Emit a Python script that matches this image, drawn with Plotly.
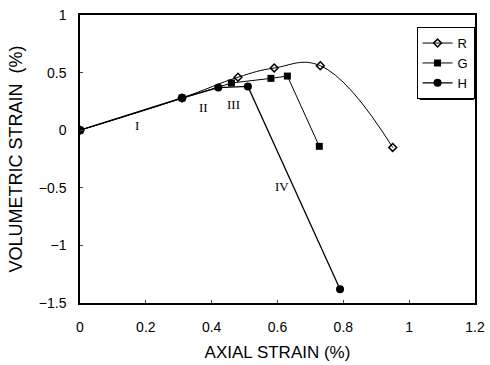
import plotly.graph_objects as go

# Data
r_x = [0.0, 0.31, 0.48, 0.59, 0.73, 0.95]
r_y = [0.0, 0.28, 0.46, 0.54, 0.56, -0.15]
g_x = [0.0, 0.31, 0.46, 0.58, 0.63, 0.727]
g_y = [0.0, 0.28, 0.41, 0.45, 0.47, -0.14]
h_x = [0.0, 0.31, 0.42, 0.51, 0.79]
h_y = [0.0, 0.28, 0.37, 0.38, -1.38]

stage_labels = ["I", "II", "III", "IV"]
stage_x = [0.173, 0.374, 0.465, 0.614]
stage_y = [0.04, 0.20, 0.22, -0.49]

x_ticks = [0, 0.2, 0.4, 0.6, 0.8, 1, 1.2]
y_ticks = [-1.5, -1, -0.5, 0, 0.5, 1]

fig = go.Figure()
fig.add_trace(go.Scatter(x=r_x, y=r_y, name="R", mode="lines+markers",
                         line=dict(color="black", width=1, shape="spline", smoothing=1.2),
                         marker=dict(symbol="diamond-open", size=6, color="black",
                                     line=dict(width=1.5, color="black"))))
fig.add_trace(go.Scatter(x=g_x, y=g_y, name="G", mode="lines+markers",
                         line=dict(color="black", width=1),
                         marker=dict(symbol="square", size=7, color="black")))
fig.add_trace(go.Scatter(x=h_x, y=h_y, name="H", mode="lines+markers",
                         line=dict(color="black", width=1.3),
                         marker=dict(symbol="circle", size=8, color="black")))

for t, x, y in zip(stage_labels, stage_x, stage_y):
    fig.add_annotation(x=x, y=y, text=t, showarrow=False,
                       font=dict(family="Liberation Serif", size=13, color="#000000"))

# legend shadow
fig.add_shape(type="rect", xref="paper", yref="paper",
              x0=0.86, x1=0.997, y0=0.705, y1=0.945,
              fillcolor="black", line=dict(width=0), layer="above")

fig.update_layout(
    width=490, height=365,
    margin=dict(l=80, r=15, t=15, b=62, autoexpand=False),
    paper_bgcolor="white", plot_bgcolor="white",
    font=dict(family="Liberation Sans", size=14, color="black"),
    showlegend=True,
    legend=dict(x=0.852, y=0.958, xanchor="left", yanchor="top",
                bgcolor="white", bordercolor="black", borderwidth=1,
                font=dict(size=13), itemwidth=30, tracegroupgap=0),
    xaxis=dict(range=[0, 1.2], tickvals=x_ticks, ticks="inside", ticklen=3,
               ticklabelstandoff=10, automargin=False,
               showline=True, linecolor="black", linewidth=1.5, mirror=True,
               showgrid=False, zeroline=False,
               title=dict(text="AXIAL STRAIN (%)", font=dict(size=17), standoff=13)),
    yaxis=dict(range=[-1.5, 1], tickvals=y_ticks, ticks="inside", ticklen=3,
               ticklabelstandoff=9, automargin=False,
               showline=True, linecolor="black", linewidth=1.5, mirror=True,
               showgrid=False, zeroline=False,
               title=dict(text="VOLUMETRIC STRAIN  (%)", font=dict(size=18), standoff=12)),
)

fig.write_html("out.html")
